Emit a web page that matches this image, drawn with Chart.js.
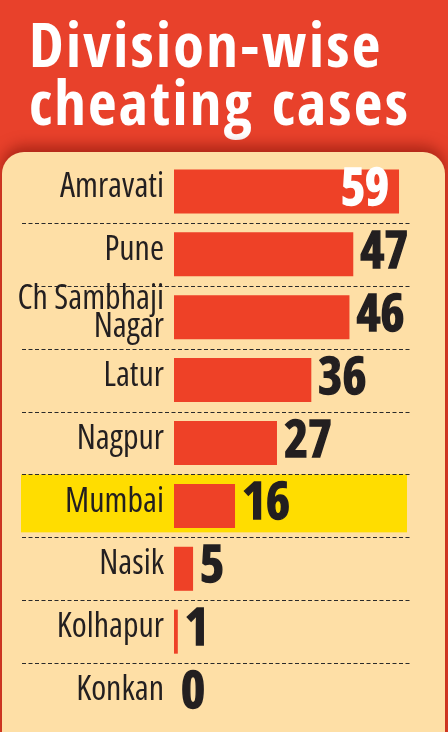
<!DOCTYPE html>
<html lang="en">
<head>
    <meta charset="UTF-8">
    <title>Division-wise cheating cases</title>
    <script src="https://cdn.jsdelivr.net/npm/chart.js"></script>
    <style>
        html, body { margin: 0; padding: 0; }
        body {
            width: 448px;
            height: 732px;
            overflow: hidden;
            position: relative;
            background: #E8412B;
        }
        .title {
            position: absolute;
            left: 29px;
            top: 14px;
            margin: 0;
            color: #fff;
            font-family: 'Open Sans Condensed', 'Roboto Condensed', sans-serif;
            font-size: 62px;
            font-weight: bold;
            line-height: 58px;
            letter-spacing: 2.3px;
            white-space: nowrap;
        }
        .panel {
            position: absolute;
            left: 2px;
            top: 152px;
            width: 443px;
            height: 610px;
            background: #FEDFA6;
            border-radius: 22px;
            box-shadow: 0 -6px 14px rgba(110, 10, 0, 0.5);
        }
        canvas { position: absolute; left: 0; top: 0; }
    </style>
</head>
<body>
    <h1 class="title">Division-wise<br>cheating cases</h1>
    <div class="panel"></div>
    <canvas id="casesChart" width="448" height="732"></canvas>

    <script>
        const divisions = ['Amravati', 'Pune', ['Ch Sambhaji', 'Nagar'], 'Latur', 'Nagpur', 'Mumbai', 'Nasik', 'Kolhapur', 'Konkan'];
        const cases = [59, 47, 46, 36, 27, 16, 5, 1, 0];
        const highlighted = 'Mumbai';

        const LABEL_FONT = "'Open Sans', 'Roboto Condensed', sans-serif";
        const VALUE_FONT = "'Open Sans Condensed', 'Roboto Condensed', sans-serif";

        // yellow row + dashed separators, drawn under the scale labels
        const rowDecor = {
            id: 'rowDecor',
            beforeDraw(chart) {
                const ctx = chart.ctx;
                const y = chart.scales.y;
                const centers = divisions.map((d, i) => y.getPixelForValue(i));
                const pitch = centers[1] - centers[0];
                const hi = divisions.indexOf(highlighted);
                ctx.save();
                ctx.fillStyle = '#FFDD00';
                ctx.fillRect(21, centers[hi] - pitch / 2, 386, pitch - 5);
                ctx.strokeStyle = '#2a2a2a';
                ctx.lineWidth = 1;
                ctx.setLineDash([4, 2.5]);
                for (let i = 0; i < centers.length - 1; i++) {
                    const yy = Math.round((centers[i] + centers[i + 1]) / 2) + 0.5;
                    ctx.beginPath();
                    ctx.moveTo(22, yy);
                    ctx.lineTo(410, yy);
                    ctx.stroke();
                }
                ctx.restore();
            }
        };

        // numbers at the end of each bar
        const valueLabels = {
            id: 'valueLabels',
            afterDatasetsDraw(chart) {
                const ctx = chart.ctx;
                const max = Math.max(...cases);
                ctx.save();
                ctx.font = 'bold 52px ' + VALUE_FONT;
                ctx.textBaseline = 'middle';
                ctx.lineWidth = 1.4;
                chart.getDatasetMeta(0).data.forEach((bar, i) => {
                    const inside = cases[i] === max;
                    ctx.fillStyle = ctx.strokeStyle = inside ? '#ffffff' : '#231F20';
                    ctx.textAlign = inside ? 'right' : 'left';
                    const x = inside ? bar.x - 10 : bar.x + 7;
                    ctx.fillText(cases[i], x, bar.y);
                    ctx.strokeText(cases[i], x, bar.y);
                });
                ctx.restore();
            }
        };

        new Chart(document.getElementById('casesChart'), {
            type: 'bar',
            data: {
                labels: divisions,
                datasets: [{
                    data: cases,
                    backgroundColor: '#EE4127',
                    barPercentage: 0.7,
                    categoryPercentage: 1.0
                }]
            },
            options: {
                indexAxis: 'y',
                responsive: false,
                animation: false,
                devicePixelRatio: 1,
                layout: { padding: { top: 160, bottom: 6, left: 0, right: 7 } },
                plugins: {
                    legend: { display: false },
                    tooltip: { enabled: false }
                },
                scales: {
                    x: { display: false, min: 0, max: 70 },
                    y: {
                        afterFit(scale) {
                            scale.width = 174;
                            scale.paddingTop = 0;
                            scale.paddingBottom = 0;
                        },
                        grid: { display: false, drawTicks: false },
                        border: { display: false },
                        ticks: {
                            color: '#231F20',
                            padding: 10,
                            labelOffset: -4,
                            // weight slot carries the font-stretch keyword
                            font: { family: LABEL_FONT, weight: 'condensed', size: 34, lineHeight: 0.8 }
                        }
                    }
                }
            },
            plugins: [rowDecor, valueLabels]
        });
    </script>
</body>
</html>
